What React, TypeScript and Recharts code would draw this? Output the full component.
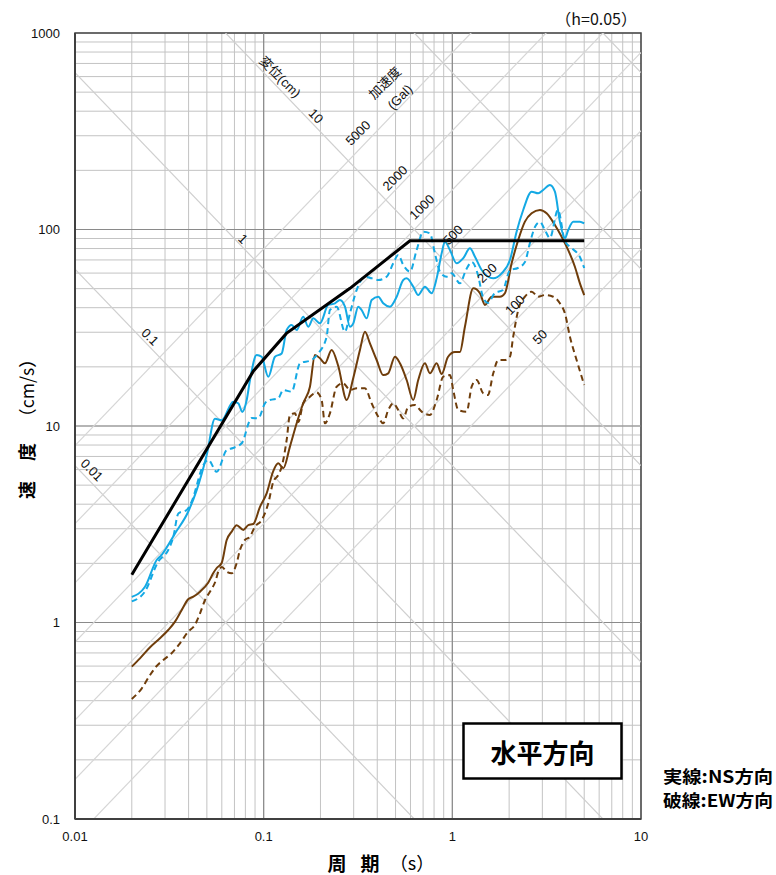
import React from 'react';
import {
  LineChart,
  Line,
  XAxis,
  YAxis,
  CartesianGrid,
  ReferenceLine,
  ReferenceArea,
  ReferenceDot,
} from 'recharts';

const FONT = "'Liberation Sans', 'Noto Sans CJK JP', sans-serif";
const CJK = "'Noto Sans CJK JP', 'Liberation Sans', sans-serif";

// period axis ticks (s)
const X_TICKS = [
  0.01, 0.02, 0.03, 0.04, 0.05, 0.06, 0.07, 0.08, 0.09,
  0.1, 0.2, 0.3, 0.4, 0.5, 0.6, 0.7, 0.8, 0.9,
  1, 2, 3, 4, 5, 6, 7, 8, 9, 10,
];
// velocity axis ticks (cm/s)
const Y_TICKS = [
  0.1, 0.2, 0.3, 0.4, 0.5, 0.6, 0.7, 0.8, 0.9,
  1, 2, 3, 4, 5, 6, 7, 8, 9,
  10, 20, 30, 40, 50, 60, 70, 80, 90,
  100, 200, 300, 400, 500, 600, 700, 800, 900,
  1000,
];
const X_DECADES = [0.1, 1];
const Y_DECADES = [1, 10, 100];
// tripartite diagonals
const DISP_LINES = [0.01, 0.1, 1, 10, 100, 1000]; // cm
const ACC_LINES = [50, 100, 200, 500, 1000, 2000, 5000]; // Gal

// [period s, velocity cm/s]
const DESIGN: number[][] = [
  [0.02, 1.75], [0.0883, 19.05], [0.132, 29.6], [0.2867, 50.2], [0.596, 87.7], [5.0, 87.7],
];

const NS_BLUE: number[][] = [
  [0.02, 1.35], [0.0235, 1.52], [0.0271, 2.08], [0.0288, 2.21], [0.0339, 2.84], [0.0398, 3.66],
  [0.0442, 4.73], [0.0499, 7.12], [0.0552, 10.9], [0.0599, 10.7], [0.069, 13.3], [0.0734, 13.05],
  [0.077, 11.8], [0.0813, 13.56], [0.0846, 17.1], [0.0918, 23.0], [0.0976, 22.5], [0.1058, 17.8],
  [0.1148, 22.5], [0.1246, 23.4], [0.1324, 30.8], [0.1407, 32.7], [0.1496, 30.8], [0.1621, 36.0],
  [0.1723, 32.0], [0.1832, 35.3], [0.1988, 33.3], [0.2199, 41.3], [0.2386, 42.1], [0.2536, 43.8],
  [0.2697, 40.5], [0.2867, 32.0], [0.2985, 33.3], [0.3173, 40.5], [0.3307, 38.9], [0.3514, 35.3],
  [0.3735, 43.8], [0.4049, 45.5], [0.4302, 42.1], [0.4669, 40.5], [0.5069, 45.5], [0.5494, 55.3],
  [0.5727, 56.4], [0.6206, 51.2], [0.6595, 46.4], [0.7157, 51.2], [0.777, 47.4], [0.8257, 56.4],
  [0.8777, 75.6], [0.9138, 86.7], [0.9712, 78.6], [1.054, 67.3], [1.142, 71.4], [1.24, 80.2],
  [1.318, 72.7], [1.43, 62.2], [1.648, 56.4], [1.826, 59.8], [2.02, 69.9], [2.191, 97.4],
  [2.375, 125.7], [2.632, 155.7], [2.852, 152.8], [3.031, 158.9], [3.29, 168.4], [3.497, 155.7],
  [3.717, 109.6], [3.95, 90.2], [4.114, 99.4], [4.372, 109.6], [4.745, 109.6], [5.0, 107.5],
];

const EW_BLUE: number[][] = [
  [0.02, 1.28], [0.0235, 1.44], [0.0276, 2.04], [0.0312, 2.34], [0.0332, 2.73], [0.0353, 3.59],
  [0.0391, 3.74], [0.0415, 4.12], [0.0479, 6.33], [0.0509, 6.71], [0.0564, 5.85], [0.0637, 7.55],
  [0.0688, 7.73], [0.0765, 8.17], [0.0864, 10.98], [0.0936, 10.94], [0.1016, 13.05], [0.108, 13.56],
  [0.1195, 13.84], [0.127, 15.25], [0.1407, 14.95], [0.1557, 20.85], [0.1796, 21.67], [0.1947, 23.44],
  [0.2157, 28.48], [0.2245, 38.93], [0.2437, 40.46], [0.2697, 30.19], [0.2867, 37.45], [0.3111, 49.2],
  [0.3442, 57.5], [0.3735, 56.45], [0.4049, 55.3], [0.4485, 57.5], [0.4863, 67.3], [0.5168, 74.2],
  [0.5494, 65.96], [0.5961, 60.98], [0.6469, 78.6], [0.7011, 97.4], [0.7607, 95.6], [0.8085, 75.6],
  [0.8597, 60.98], [0.9328, 57.5], [0.9915, 59.84], [1.097, 53.2], [1.181, 62.2], [1.27, 68.3],
  [1.367, 58.7], [1.453, 45.35], [1.544, 42.27], [1.682, 47.5], [1.854, 49.2], [2.02, 62.2],
  [2.227, 63.7], [2.425, 68.3], [2.578, 85.4], [2.74, 103], [2.912, 109.2], [3.095, 99.4],
  [3.29, 90.5], [3.627, 125.7], [3.95, 87.4], [4.287, 80.5], [4.745, 72.4], [5.0, 63.7],
];

const NS_BROWN: number[][] = [
  [0.02, 0.596], [0.0221, 0.657], [0.025, 0.748], [0.0282, 0.831], [0.0312, 0.916], [0.0339, 1.01],
  [0.0368, 1.158], [0.0398, 1.312], [0.0424, 1.353], [0.046, 1.435], [0.0509, 1.598], [0.0541, 1.786],
  [0.0564, 1.894], [0.0599, 2.008], [0.0637, 2.63], [0.0677, 2.9], [0.0719, 3.13], [0.078, 2.96],
  [0.0829, 3.13], [0.0881, 3.17], [0.0956, 3.88], [0.1037, 4.54], [0.1124, 5.9], [0.1195, 6.46],
  [0.127, 6.09], [0.1378, 7.85], [0.1496, 10.32], [0.1621, 13.05], [0.1759, 15.85], [0.187, 22.97],
  [0.1988, 22.1], [0.2113, 20.85], [0.2293, 24.37], [0.2485, 20.2], [0.2754, 13.56], [0.2985, 17.55],
  [0.3238, 24.37], [0.3442, 30.19], [0.3658, 26.35], [0.3971, 21.67], [0.4302, 18.17], [0.4573, 18.54],
  [0.4965, 22.52], [0.5277, 20.85], [0.5727, 17.14], [0.6206, 13.56], [0.6595, 17.14], [0.7157, 20.85],
  [0.7607, 18.54], [0.8257, 20.85], [0.8777, 18.39], [0.9478, 22.44], [1.032, 23.8], [1.097, 23.8],
  [1.166, 32.0], [1.291, 50.2], [1.401, 47.4], [1.489, 41.3], [1.616, 45.5], [1.788, 45.5],
  [1.9, 47.4], [2.062, 67.3], [2.235, 88.4], [2.425, 109.6], [2.632, 120.9], [2.912, 125.7],
  [3.16, 120.9], [3.497, 105.4], [3.795, 91.9], [4.114, 78.6], [4.463, 64.67], [4.745, 53.2], [5.0, 46.4],
];

const EW_BROWN: number[][] = [
  [0.02, 0.408], [0.0226, 0.4625], [0.025, 0.5405], [0.0271, 0.6006], [0.0294, 0.6445], [0.0325, 0.697],
  [0.036, 0.7838], [0.0398, 0.898], [0.0432, 0.9712], [0.046, 1.114], [0.0489, 1.302], [0.0519, 1.435],
  [0.0552, 1.598], [0.058, 1.85], [0.0601, 1.916], [0.0637, 1.813], [0.0677, 1.78], [0.0719, 2.001],
  [0.0749, 2.339], [0.0796, 2.63], [0.0846, 2.733], [0.0899, 3.072], [0.0976, 3.324], [0.1058, 4.043],
  [0.1124, 5.188], [0.1195, 5.63], [0.1246, 6.21], [0.1324, 8.49], [0.1378, 11.38], [0.1465, 11.6],
  [0.1526, 10.48], [0.1621, 13.05], [0.1759, 14.1], [0.1909, 14.81], [0.2029, 13.56], [0.2113, 10.32],
  [0.2245, 11.6], [0.2437, 15.85], [0.2641, 16.5], [0.2867, 15.25], [0.3111, 15.56], [0.3442, 15.56],
  [0.3735, 13.05], [0.4049, 11.15], [0.4302, 10.32], [0.4573, 12.06], [0.4863, 13.05], [0.5168, 12.06],
  [0.5494, 10.94], [0.584, 12.54], [0.6336, 12.79], [0.6876, 11.83], [0.7607, 11.38], [0.8257, 13.56],
  [0.895, 17.82], [0.9712, 18.17], [1.011, 15.25], [1.075, 12.06], [1.191, 11.83], [1.266, 15.85],
  [1.345, 17.14], [1.458, 14.67], [1.544, 14.38], [1.648, 18.54], [1.751, 21.67], [1.9, 21.67],
  [2.02, 22.52], [2.102, 28.48], [2.235, 38.93], [2.425, 45.5], [2.632, 48.25], [2.852, 45.5],
  [3.095, 46.4], [3.425, 45.5], [3.717, 42.1], [3.95, 37.45], [4.2, 28.48], [4.557, 21.67], [5.0, 16.17],
];

// diagonal-scale labels: [text, period, velocity]
const DISP_LABELS: [string, number, number][] = [
  ['0.01', 0.0123, 5.97], ['0.1', 0.025, 28.4], ['1', 0.0777, 89.5], ['10', 0.1893, 378], ['変位(cm)', 0.1221, 597],
];
const ACC_LABELS: [string, number, number][] = [
  ['5000', 0.316, 310], ['2000', 0.4965, 182.9], ['1000', 0.69, 130.1], ['500', 1.0074, 93.8],
  ['200', 1.526, 60.05], ['100', 2.146, 41.3], ['50', 2.912, 28.4], ['加速度', 0.4393, 556], ['(Gal)', 0.5277, 472],
];

const toPts = (arr: number[][]) => arr.map(([t, v]) => ({ t, v }));

const isDecade = (v: number) => Math.abs(Math.log10(v) - Math.round(Math.log10(v))) < 1e-9;
const fmt = (v: number) => (isDecade(v) ? String(v) : '');

const T_MIN = 0.01;
const T_MAX = 10;

const BLUE = '#14a9e4';
const BROWN = '#6f3d0b';

export default function App() {
  const labelShape = (text: string, angle: number) => (p: any) => (
    <text
      x={p.cx}
      y={p.cy}
      transform={`rotate(${angle} ${p.cx} ${p.cy})`}
      textAnchor="middle"
      dominantBaseline="central"
      fontSize={13}
      fontFamily={FONT}
      fill="#111"
    >
      {text}
    </text>
  );

  return (
    <div style={{ position: 'absolute', left: 0, top: 0, width: 776, height: 875, overflow: 'hidden', background: '#fff' }}>
      <LineChart
        width={776}
        height={875}
        margin={{ top: 33, right: 135, left: 15, bottom: 26 }}
        style={{ fontFamily: FONT }}
      >
        <CartesianGrid stroke="#c3c3c3" strokeWidth={1} />
        <XAxis
          dataKey="t"
          type="number"
          scale="log"
          domain={[T_MIN, T_MAX]}
          allowDataOverflow
          ticks={X_TICKS}
          interval={0}
          tickFormatter={fmt}
          tickLine={false}
          tickSize={8}
          tickMargin={5}
          height={30}
          axisLine={{ stroke: '#404040', strokeWidth: 2 }}
          tick={{ fill: '#111', fontSize: 13, fontFamily: FONT }}
        />
        <YAxis
          dataKey="v"
          type="number"
          scale="log"
          domain={[0.1, 1000]}
          allowDataOverflow
          ticks={Y_TICKS}
          interval={0}
          tickFormatter={fmt}
          tickLine={false}
          tickSize={8}
          tickMargin={7}
          width={60}
          axisLine={{ stroke: '#404040', strokeWidth: 2 }}
          tick={{ fill: '#111', fontSize: 13, fontFamily: FONT }}
        />
        {X_DECADES.map((x) => (
          <ReferenceLine key={'xd' + x} x={x} stroke="#8a8a8a" strokeWidth={1.2} />
        ))}
        {Y_DECADES.map((y) => (
          <ReferenceLine key={'yd' + y} y={y} stroke="#8a8a8a" strokeWidth={1.2} />
        ))}
        {DISP_LINES.map((d) => (
          <ReferenceLine
            key={'disp' + d}
            segment={[
              { x: T_MIN, y: (2 * Math.PI * d) / T_MIN },
              { x: T_MAX, y: (2 * Math.PI * d) / T_MAX },
            ]}
            stroke="#cfcfcf"
            strokeWidth={1.2}
            ifOverflow="hidden"
          />
        ))}
        {ACC_LINES.map((a) => (
          <ReferenceLine
            key={'acc' + a}
            segment={[
              { x: T_MIN, y: (a * T_MIN) / (2 * Math.PI) },
              { x: T_MAX, y: (a * T_MAX) / (2 * Math.PI) },
            ]}
            stroke="#d6d6d6"
            strokeWidth={1.2}
            ifOverflow="hidden"
          />
        ))}
        <ReferenceArea x1={T_MIN} x2={T_MAX} y1={0.1} y2={1000} fill="none" stroke="#444" strokeWidth={1.5} ifOverflow="visible" />
        {DISP_LABELS.map(([text, t, v]) => (
          <ReferenceDot key={'dl' + text} x={t} y={v} r={0} ifOverflow="visible" shape={labelShape(text, 45)} />
        ))}
        {ACC_LABELS.map(([text, t, v]) => (
          <ReferenceDot key={'al' + text} x={t} y={v} r={0} ifOverflow="visible" shape={labelShape(text, -45)} />
        ))}
        <Line data={toPts(EW_BROWN)} dataKey="v" type="monotone" stroke={BROWN} strokeWidth={2} strokeDasharray="6 4" dot={false} isAnimationActive={false} />
        <Line data={toPts(NS_BROWN)} dataKey="v" type="monotone" stroke={BROWN} strokeWidth={2} dot={false} isAnimationActive={false} />
        <Line data={toPts(EW_BLUE)} dataKey="v" type="monotone" stroke={BLUE} strokeWidth={2} strokeDasharray="6 4" dot={false} isAnimationActive={false} />
        <Line data={toPts(NS_BLUE)} dataKey="v" type="monotone" stroke={BLUE} strokeWidth={2} dot={false} isAnimationActive={false} />
        <Line data={toPts(DESIGN)} dataKey="v" type="linear" stroke="#000" strokeWidth={3} dot={false} isAnimationActive={false} />
      </LineChart>
      <svg
        width={776}
        height={875}
        style={{ position: 'absolute', left: 0, top: 0, pointerEvents: 'none' }}
      >
        <text x={637} y={25} textAnchor="end" fontSize={16} fontFamily={CJK} fill="#111">（h=0.05）</text>
        <text x={26} y={490} transform="rotate(-90 26 490)" textAnchor="middle" dominantBaseline="central" fontSize={18} fontWeight={700} fontFamily={CJK} fill="#000">速</text>
        <text x={26} y={452} transform="rotate(-90 26 452)" textAnchor="middle" dominantBaseline="central" fontSize={18} fontWeight={700} fontFamily={CJK} fill="#000">度</text>
        <text x={26} y={388} transform="rotate(-90 26 388)" textAnchor="middle" dominantBaseline="central" fontSize={18} fontFamily={CJK} fill="#000" textLength={76} lengthAdjust="spacingAndGlyphs">（cm/s）</text>
        <text x={337} y={862} textAnchor="middle" dominantBaseline="central" fontSize={19} fontWeight={700} fontFamily={CJK} fill="#000">周</text>
        <text x={370} y={862} textAnchor="middle" dominantBaseline="central" fontSize={19} fontWeight={700} fontFamily={CJK} fill="#000">期</text>
        <text x={412} y={862} textAnchor="middle" dominantBaseline="central" fontSize={18} fontFamily={CJK} fill="#000">（s）</text>
        <rect x={463.5} y={723.5} width={158} height={55} fill="#fff" stroke="#000" strokeWidth={2.5} />
        <text x={542.5} y={751} textAnchor="middle" dominantBaseline="central" fontSize={26} fontWeight={700} fontFamily={CJK} fill="#000">水平方向</text>
        <text x={663} y={775} dominantBaseline="central" fontSize={17} fontWeight={700} fontFamily={CJK} fill="#000" textLength={110} lengthAdjust="spacingAndGlyphs">実線:NS方向</text>
        <text x={663} y={799} dominantBaseline="central" fontSize={17} fontWeight={700} fontFamily={CJK} fill="#000" textLength={110} lengthAdjust="spacingAndGlyphs">破線:EW方向</text>
      </svg>
    </div>
  );
}
